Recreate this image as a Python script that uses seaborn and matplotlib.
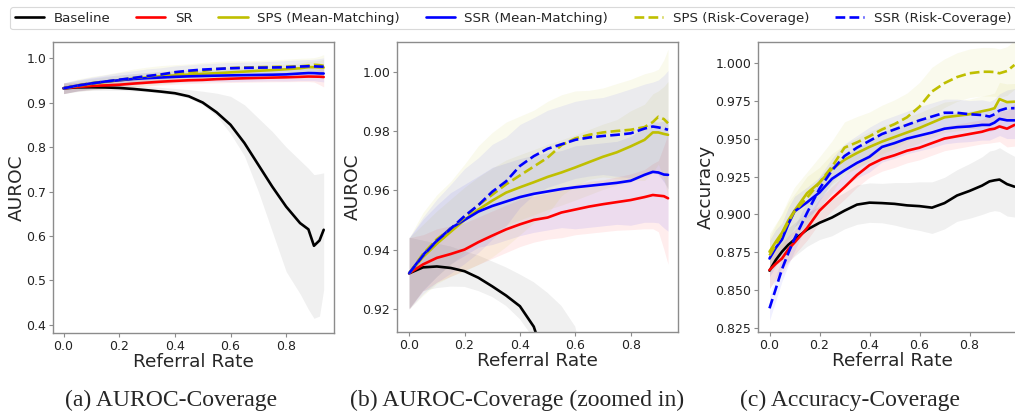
import numpy as np
import pandas as pd
import matplotlib
matplotlib.use("Agg")
import matplotlib.pyplot as plt
import seaborn as sns

# ---------------- data ----------------
# AUROC vs referral rate (panels a and b share the same data)
auroc_rate = [0.0, 0.05, 0.1, 0.15, 0.2, 0.25, 0.3, 0.35, 0.4, 0.45, 0.5, 0.55,
              0.6, 0.65, 0.7, 0.75, 0.8, 0.85, 0.88, 0.9, 0.92, 0.935]

auroc_baseline = [0.932, 0.934, 0.9343, 0.9338, 0.9327, 0.9305, 0.9276, 0.9245, 0.9209, 0.914, 0.900, 0.878,
                  0.850, 0.809, 0.760, 0.711, 0.666, 0.629, 0.615, 0.578, 0.590, 0.614]
auroc_baseline_lo = [0.920, 0.926, 0.927, 0.9275, 0.9274, 0.926, 0.924, 0.921, 0.9165, 0.910, 0.895, 0.870,
                     0.830, 0.780, 0.700, 0.610, 0.520, 0.470, 0.435, 0.415, 0.420, 0.480]
auroc_baseline_hi = [0.944, 0.943, 0.942, 0.941, 0.9394, 0.938, 0.936, 0.934, 0.9316, 0.929, 0.9254, 0.921,
                     0.914, 0.895, 0.865, 0.835, 0.800, 0.770, 0.752, 0.738, 0.740, 0.742]

auroc_sr = [0.932, 0.935, 0.9372, 0.9385, 0.940, 0.9425, 0.9447, 0.9468, 0.9485, 0.950, 0.9508, 0.9525,
            0.9535, 0.9545, 0.9553, 0.956, 0.9567, 0.9577, 0.9584, 0.9582, 0.958, 0.9573]
auroc_sr_lo = [0.920, 0.926, 0.929, 0.931, 0.933, 0.935, 0.937, 0.939, 0.941, 0.9425, 0.9435, 0.944,
               0.945, 0.9455, 0.946, 0.9465, 0.9467, 0.947, 0.947, 0.946, 0.940, 0.935]
auroc_sr_hi = [0.944, 0.945, 0.947, 0.948, 0.949, 0.951, 0.953, 0.955, 0.957, 0.958, 0.959, 0.9605,
               0.962, 0.963, 0.9635, 0.9645, 0.9655, 0.967, 0.969, 0.970, 0.975, 0.979]

auroc_sps_mm = [0.932, 0.9375, 0.942, 0.946, 0.950, 0.9535, 0.9565, 0.9592, 0.961, 0.9627, 0.9645, 0.966,
                0.9677, 0.9695, 0.9713, 0.9728, 0.9748, 0.977, 0.9795, 0.9795, 0.979, 0.9787]
auroc_sps_mm_hw = [0.012, 0.011, 0.011, 0.011, 0.011, 0.011, 0.011, 0.011, 0.011, 0.011, 0.011, 0.011,
                   0.011, 0.011, 0.011, 0.011, 0.012, 0.012, 0.013, 0.014, 0.016, 0.018]

auroc_ssr_mm = [0.932, 0.9382, 0.943, 0.9472, 0.950, 0.9528, 0.9547, 0.9562, 0.9577, 0.9588, 0.9596, 0.9604,
                0.961, 0.9615, 0.962, 0.9625, 0.9632, 0.9652, 0.9662, 0.966, 0.9653, 0.9652]
auroc_ssr_mm_hw = [0.012, 0.012, 0.012, 0.012, 0.012, 0.012, 0.013, 0.013, 0.013, 0.013, 0.013, 0.013,
                   0.014, 0.014, 0.014, 0.014, 0.015, 0.016, 0.017, 0.017, 0.018, 0.019]

auroc_sps_rc = [0.932, 0.9385, 0.9435, 0.947, 0.9508, 0.955, 0.9585, 0.962, 0.965, 0.968, 0.971, 0.9752,
                0.9775, 0.9787, 0.9795, 0.980, 0.9804, 0.9813, 0.983, 0.9848, 0.984, 0.9826]
auroc_sps_rc_hw = [0.012, 0.014, 0.015, 0.016, 0.018, 0.020, 0.021, 0.021, 0.020, 0.019, 0.019, 0.017,
                   0.016, 0.015, 0.015, 0.016, 0.017, 0.018, 0.017, 0.016, 0.020, 0.025]

auroc_ssr_rc = [0.932, 0.938, 0.943, 0.947, 0.9513, 0.955, 0.9595, 0.963, 0.9682, 0.9715, 0.974, 0.9755,
                0.977, 0.9778, 0.9783, 0.9787, 0.9792, 0.9808, 0.9815, 0.9812, 0.9808, 0.9804]
auroc_ssr_rc_hw = [0.012, 0.013, 0.014, 0.015, 0.016, 0.016, 0.016, 0.015, 0.014, 0.013, 0.013, 0.013,
                   0.013, 0.013, 0.013, 0.014, 0.015, 0.015, 0.015, 0.016, 0.018, 0.020]

# Accuracy vs referral rate (panel c)
acc_rate = [0.0, 0.025, 0.05, 0.075, 0.1, 0.15, 0.2, 0.25, 0.3, 0.35, 0.4, 0.45, 0.5, 0.55,
            0.6, 0.65, 0.7, 0.75, 0.8, 0.85, 0.88, 0.9, 0.92, 0.95, 0.98]

acc_baseline = [0.863, 0.870, 0.8755, 0.880, 0.8835, 0.890, 0.8945, 0.898, 0.9025, 0.9065, 0.9078, 0.9075, 0.907, 0.906,
                0.9055, 0.9045, 0.9075, 0.9125, 0.9155, 0.919, 0.9218, 0.9225, 0.923, 0.920, 0.9183]
acc_baseline_hw = [0.012, 0.012, 0.011, 0.011, 0.011, 0.011, 0.011, 0.012, 0.012, 0.013, 0.013, 0.013, 0.014, 0.015,
                   0.016, 0.017, 0.017, 0.017, 0.018, 0.019, 0.020, 0.020, 0.021, 0.021, 0.020]

acc_sr = [0.8634, 0.8675, 0.871, 0.877, 0.8815, 0.891, 0.9025, 0.9105, 0.918, 0.926, 0.9325, 0.9365, 0.939, 0.942,
          0.944, 0.947, 0.950, 0.9515, 0.953, 0.9545, 0.956, 0.9565, 0.958, 0.9565, 0.959]
acc_sr_hw = [0.012, 0.011, 0.010, 0.009, 0.008, 0.008, 0.008, 0.008, 0.008, 0.008, 0.008, 0.008, 0.008, 0.008,
             0.008, 0.008, 0.008, 0.008, 0.008, 0.008, 0.009, 0.009, 0.010, 0.012, 0.014]

acc_sps_mm = [0.8755, 0.882, 0.888, 0.896, 0.9025, 0.914, 0.921, 0.930, 0.936, 0.9405, 0.9445, 0.948, 0.951, 0.954,
              0.957, 0.9605, 0.964, 0.965, 0.966, 0.968, 0.969, 0.970, 0.976, 0.974, 0.9743]
acc_sps_mm_hw = [0.012, 0.012, 0.012, 0.012, 0.011, 0.011, 0.010, 0.010, 0.010, 0.010, 0.010, 0.010, 0.010, 0.010,
                 0.010, 0.010, 0.010, 0.010, 0.010, 0.010, 0.010, 0.010, 0.011, 0.012, 0.012]

acc_ssr_mm = [0.871, 0.878, 0.8835, 0.8935, 0.902, 0.908, 0.9145, 0.9235, 0.929, 0.934, 0.938, 0.9445, 0.947, 0.950,
              0.952, 0.954, 0.9565, 0.9575, 0.958, 0.959, 0.959, 0.9605, 0.963, 0.962, 0.962]
acc_ssr_mm_hw = [0.012, 0.012, 0.011, 0.011, 0.010, 0.010, 0.010, 0.010, 0.010, 0.010, 0.010, 0.010, 0.010, 0.010,
                 0.010, 0.010, 0.010, 0.010, 0.010, 0.010, 0.010, 0.010, 0.011, 0.012, 0.012]

acc_sps_rc = [0.873, 0.880, 0.887, 0.895, 0.902, 0.911, 0.921, 0.9315, 0.944, 0.9475, 0.9515, 0.956, 0.9595, 0.964,
              0.971, 0.981, 0.9865, 0.9905, 0.993, 0.994, 0.994, 0.9938, 0.993, 0.9945, 0.9985]
acc_sps_rc_hw = [0.012, 0.013, 0.014, 0.015, 0.016, 0.017, 0.017, 0.017, 0.017, 0.017, 0.016, 0.016, 0.016, 0.016,
                 0.016, 0.016, 0.016, 0.016, 0.016, 0.016, 0.016, 0.016, 0.016, 0.016, 0.016]

acc_ssr_rc = [0.8382, 0.851, 0.864, 0.8745, 0.884, 0.901, 0.917, 0.929, 0.9385, 0.944, 0.9485, 0.953, 0.956, 0.959,
              0.962, 0.9645, 0.967, 0.967, 0.966, 0.9655, 0.9645, 0.966, 0.9685, 0.970, 0.970]
acc_ssr_rc_hw = [0.008, 0.008, 0.008, 0.008, 0.008, 0.008, 0.008, 0.008, 0.008, 0.008, 0.009, 0.009, 0.009, 0.009,
                 0.009, 0.009, 0.009, 0.009, 0.009, 0.010, 0.010, 0.010, 0.011, 0.012, 0.013]

labels = ["Baseline", "SR", "SPS (Mean-Matching)", "SSR (Mean-Matching)",
          "SPS (Risk-Coverage)", "SSR (Risk-Coverage)"]
captions = ["(a) AUROC-Coverage", "(b) AUROC-Coverage (zoomed in)", "(c) Accuracy-Coverage"]

auroc_ticks_a = [0.4, 0.5, 0.6, 0.7, 0.8, 0.9, 1.0]
auroc_ticks_b = [0.92, 0.94, 0.96, 0.98, 1.00]
acc_ticks = [0.825, 0.850, 0.875, 0.900, 0.925, 0.950, 0.975, 1.000]
rate_ticks = [0.0, 0.2, 0.4, 0.6, 0.8]

# ---------------- style ----------------
sns.set_style("white")
plt.rcParams["font.family"] = ["DejaVu Sans"]

colors = ["black", "red", (0.75, 0.75, 0.0), "blue", (0.75, 0.75, 0.0), "blue"]
dashes = [False, False, False, False, True, True]
band_alpha = [0.06, 0.07, 0.07, 0.07, 0.07, 0.06]

W, H = 1015, 412
fig = plt.figure(figsize=(W / 100, H / 100), dpi=100)

def px(l, b, w, h):
    return [l / W, (H - b) / H, w / W, h / H]

ax_a = fig.add_axes(px(53, 333, 281, 291))
ax_b = fig.add_axes(px(397, 332, 281, 290))
ax_c = fig.add_axes(px(758, 332, 269, 290))

auroc_mean = [auroc_baseline, auroc_sr, auroc_sps_mm, auroc_ssr_mm, auroc_sps_rc, auroc_ssr_rc]
auroc_lo = [auroc_baseline_lo, auroc_sr_lo,
            list(np.subtract(auroc_sps_mm, auroc_sps_mm_hw)), list(np.subtract(auroc_ssr_mm, auroc_ssr_mm_hw)),
            list(np.subtract(auroc_sps_rc, auroc_sps_rc_hw)), list(np.subtract(auroc_ssr_rc, auroc_ssr_rc_hw))]
auroc_hi = [auroc_baseline_hi, auroc_sr_hi,
            list(np.add(auroc_sps_mm, auroc_sps_mm_hw)), list(np.add(auroc_ssr_mm, auroc_ssr_mm_hw)),
            list(np.add(auroc_sps_rc, auroc_sps_rc_hw)), list(np.add(auroc_ssr_rc, auroc_ssr_rc_hw))]

acc_mean = [acc_baseline, acc_sr, acc_sps_mm, acc_ssr_mm, acc_sps_rc, acc_ssr_rc]
acc_hw = [acc_baseline_hw, acc_sr_hw, acc_sps_mm_hw, acc_ssr_mm_hw, acc_sps_rc_hw, acc_ssr_rc_hw]
acc_lo = [list(np.subtract(m, h)) for m, h in zip(acc_mean, acc_hw)]
acc_hi = [list(np.add(m, h)) for m, h in zip(acc_mean, acc_hw)]

def draw(ax, xs, means, los, his):
    for i, lab in enumerate(labels):
        ax.fill_between(xs, los[i], his[i], color=colors[i], alpha=band_alpha[i], linewidth=0)
    for i, lab in enumerate(labels):
        df = pd.DataFrame({"x": xs, "y": means[i]})
        sns.lineplot(data=df, x="x", y="y", ax=ax, color=colors[i], linewidth=1.9,
                     linestyle="--" if dashes[i] else "-", label=lab, legend=False)

draw(ax_a, auroc_rate, auroc_mean, auroc_lo, auroc_hi)
draw(ax_b, auroc_rate, auroc_mean, auroc_lo, auroc_hi)
draw(ax_c, acc_rate, acc_mean, acc_lo, acc_hi)

for ax in (ax_a, ax_b, ax_c):
    ax.set_xticks(rate_ticks)
    ax.set_xticklabels([f"{t:.1f}" for t in rate_ticks])
    ax.set_xlabel("Referral Rate", fontsize=13.3, labelpad=0)
    for s in ax.spines.values():
        s.set_color("#8c8c8c")
        s.set_linewidth(1.0)
    ax.tick_params(axis="both", which="major", labelsize=9, length=3, width=0.8,
                   color="#8c8c8c", labelcolor="#222222", pad=2, bottom=True, left=True)

ax_a.set_xlim(-0.038, 0.972)
ax_a.set_ylim(0.382, 1.036)
ax_a.set_yticks(auroc_ticks_a)
ax_a.set_yticklabels([f"{t:.1f}" for t in auroc_ticks_a])
ax_a.set_ylabel("AUROC", fontsize=13.3, labelpad=0)

ax_b.set_xlim(-0.044, 0.971)
ax_b.set_ylim(0.9122, 1.010)
ax_b.set_yticks(auroc_ticks_b)
ax_b.set_yticklabels([f"{t:.2f}" for t in auroc_ticks_b])
ax_b.set_ylabel("AUROC", fontsize=13.3, labelpad=0)

ax_c.set_xlim(-0.046, 1.03)
ax_c.set_ylim(0.8226, 1.0136)
ax_c.set_yticks(acc_ticks)
ax_c.set_yticklabels([f"{t:.3f}" for t in acc_ticks])
ax_c.set_ylabel("Accuracy", fontsize=13.3, labelpad=0.5)

handles, hl = ax_a.get_legend_handles_labels()
leg = fig.legend(handles, hl, loc="upper left", bbox_to_anchor=(10 / W, 1 - 7 / H),
                 ncol=6, fontsize=9.6, frameon=True, fancybox=True, handlelength=2.2,
                 handletextpad=0.7, columnspacing=1.95, borderpad=0.35, borderaxespad=0,
                 edgecolor="#d0d0d0")
leg.get_frame().set_linewidth(0.8)

cap_x = [171, 517, 850]
for cx, cap in zip(cap_x, captions):
    fig.text(cx / W, 1 - 400 / H, cap, ha="center", va="center", fontsize=17,
             family=["Liberation Serif", "DejaVu Serif"])

fig.savefig("out.png", dpi=100)
